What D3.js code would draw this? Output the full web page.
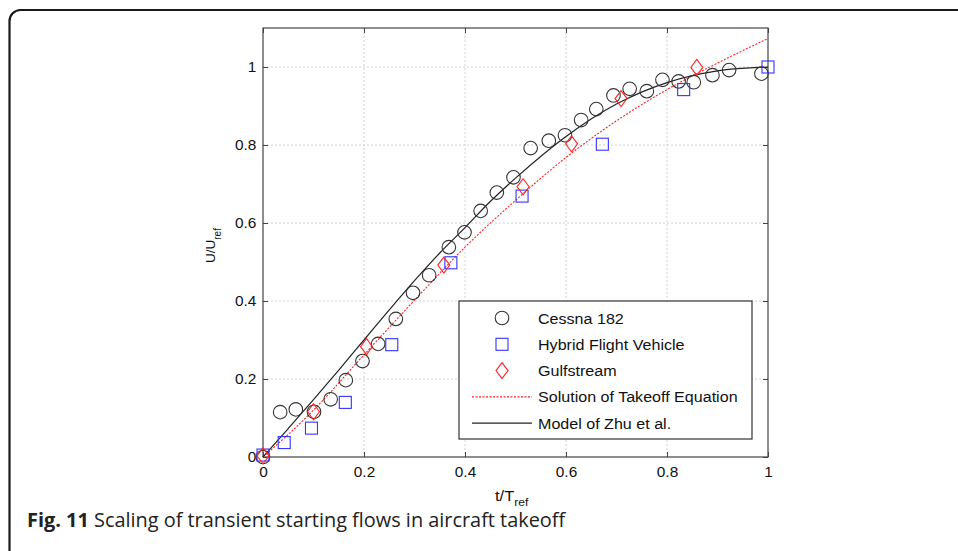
<!DOCTYPE html>
<html>
<head>
<meta charset="utf-8">
<script src="https://cdn.jsdelivr.net/npm/d3@7"></script>
<style>
body{margin:0;background:#fff;}
svg text{font-family:"Liberation Sans",Arial,sans-serif;}
</style>
</head>
<body>
<div id="chart"></div>
<script>
// Cessna 182
var cessnaX=[0,0.034,0.065,0.101,0.134,0.164,0.197,0.228,0.263,0.297,0.329,0.368,0.399,0.431,0.463,0.496,0.530,0.566,0.598,0.630,0.660,0.694,0.726,0.760,0.791,0.823,0.853,0.890,0.923,0.987];
var cessnaY=[0,0.115,0.122,0.116,0.148,0.197,0.246,0.290,0.354,0.421,0.466,0.538,0.576,0.631,0.678,0.717,0.792,0.811,0.825,0.864,0.892,0.927,0.944,0.938,0.967,0.963,0.961,0.979,0.992,0.983];
// Hybrid Flight Vehicle
var hybridX=[0,0.042,0.096,0.163,0.255,0.372,0.513,0.672,0.833,1.0];
var hybridY=[0.005,0.037,0.074,0.140,0.288,0.498,0.669,0.802,0.942,1.0];
// Gulfstream
var gulfX=[0,0.100,0.205,0.358,0.515,0.611,0.709,0.859];
var gulfY=[0.003,0.116,0.283,0.492,0.693,0.803,0.919,0.999];
// Solution of Takeoff Equation
var takeoffX=[0,0.1,0.2,0.3,0.4,0.5,0.6,0.7,0.8,0.9,1.0];
var takeoffY=[0,0.12,0.262,0.402,0.538,0.658,0.768,0.862,0.942,1.01,1.073];
// Model of Zhu et al.
var zhuX=[0,0.05,0.1,0.15,0.2,0.25,0.3,0.35,0.4,0.45,0.5,0.6,0.7,0.8,0.9,1.0];
var zhuY=[0,0.073,0.147,0.223,0.300,0.377,0.452,0.523,0.588,0.655,0.715,0.822,0.905,0.96,0.99,1.0];

var xTicks=[0,0.2,0.4,0.6,0.8,1];
var yTicks=[0,0.2,0.4,0.6,0.8,1];

var W=958,H=551;
var pLeft=263,pRight=768,pTop=28,pBottom=457;
var stretch="scale(1.1,1)"; // figure text looks a bit wider than tall

var svg=d3.select("#chart").append("svg").attr("width",W).attr("height",H);

// figure frame
svg.append("rect").attr("x",9.5).attr("y",10).attr("width",1000).attr("height",1000)
	.attr("rx",11).attr("fill","none").attr("stroke","#1a1a1a").attr("stroke-width",2.2);

var x=d3.scaleLinear().domain([0,1]).range([pLeft,pRight]);
var y=d3.scaleLinear().domain([0,1.1]).range([pBottom,pTop]);

// grid
var g=svg.append("g");
g.selectAll("line.gx").data(xTicks.slice(1,-1)).enter().append("line")
	.attr("x1",function(d){return x(d);}).attr("x2",function(d){return x(d);})
	.attr("y1",pTop).attr("y2",pBottom)
	.attr("stroke","#d0d0d0").attr("stroke-dasharray","2,2");
g.selectAll("line.gy").data(yTicks.slice(1)).enter().append("line")
	.attr("y1",function(d){return y(d);}).attr("y2",function(d){return y(d);})
	.attr("x1",pLeft).attr("x2",pRight)
	.attr("stroke","#d0d0d0").attr("stroke-dasharray","2,2");

// axes, ticks inward on all four sides
function styleAxis(sel){
	sel.select(".domain").remove();
	sel.selectAll(".tick line").attr("stroke","#444");
	sel.selectAll("text").attr("font-size",14).attr("fill","#111").attr("transform",stretch);
}
svg.append("g").attr("transform","translate(0,"+pBottom+")")
	.call(d3.axisBottom(x).tickValues(xTicks).tickFormat(d3.format("")).tickSizeInner(-5).tickPadding(10))
	.call(styleAxis);
svg.append("g").attr("transform","translate(0,"+pTop+")")
	.call(d3.axisTop(x).tickValues(xTicks).tickSizeInner(-5).tickFormat(""))
	.call(styleAxis);
svg.append("g").attr("transform","translate("+pLeft+",0)")
	.call(d3.axisLeft(y).tickValues(yTicks).tickFormat(d3.format("")).tickSizeInner(-5).tickPadding(6))
	.call(styleAxis);
svg.append("g").attr("transform","translate("+pRight+",0)")
	.call(d3.axisRight(y).tickValues(yTicks).tickSizeInner(-5).tickFormat(""))
	.call(styleAxis);

svg.append("rect").attr("x",pLeft).attr("y",pTop).attr("width",pRight-pLeft).attr("height",pBottom-pTop)
	.attr("fill","none").attr("stroke","#444").attr("stroke-width",1.2);

// curves
var line=d3.line().curve(d3.curveMonotoneX)
	.x(function(d){return x(d[0]);}).y(function(d){return y(d[1]);});
svg.append("path").datum(d3.zip(takeoffX,takeoffY))
	.attr("d",line)
	.attr("fill","none").attr("stroke","#f22").attr("stroke-width",1.1).attr("stroke-dasharray","2,1.5");
svg.append("path").datum(d3.zip(zhuX,zhuY))
	.attr("d",line)
	.attr("fill","none").attr("stroke","#222").attr("stroke-width",1.2);

// markers
var circle=function(sel){sel.append("circle").attr("r",6.8).attr("fill","none").attr("stroke","#333").attr("stroke-width",1.1);};
var square=function(sel){sel.append("rect").attr("x",-6).attr("y",-6).attr("width",12).attr("height",12).attr("fill","none").attr("stroke","#33f").attr("stroke-width",1.1);};
var diamond=function(sel){sel.append("path").attr("d","M0,-8L6,0L0,8L-6,0Z").attr("fill","none").attr("stroke","#f22").attr("stroke-width",1.1);};

function plotPts(xs,ys,shape){
	svg.append("g").selectAll("g").data(d3.zip(xs,ys)).enter().append("g")
		.attr("transform",function(d){return "translate("+x(d[0])+","+y(d[1])+")";})
		.call(shape);
}
plotPts(cessnaX,cessnaY,circle);
plotPts(hybridX,hybridY,square);
plotPts(gulfX,gulfY,diamond);

// legend
var leg=svg.append("g");
leg.append("rect").attr("x",459).attr("y",301).attr("width",293).attr("height",138)
	.attr("fill","#fff").attr("stroke","#333").attr("stroke-width",1.2);
var legNames=["Cessna 182","Hybrid Flight Vehicle","Gulfstream","Solution of Takeoff Equation","Model of Zhu et al."];
legNames.forEach(function(n,i){
	var ly=318+i*26.3;
	var it=leg.append("g").attr("transform","translate(502,"+ly+")");
	if(i==0) circle(it);
	if(i==1) square(it);
	if(i==2) diamond(it);
	if(i==3) leg.append("line").attr("x1",472).attr("x2",532).attr("y1",ly).attr("y2",ly)
		.attr("stroke","#f22").attr("stroke-width",1.1).attr("stroke-dasharray","2,1.5");
	if(i==4) leg.append("line").attr("x1",472).attr("x2",532).attr("y1",ly).attr("y2",ly)
		.attr("stroke","#222").attr("stroke-width",1.2);
	leg.append("text").attr("transform","translate(538,"+(ly+5.5)+") scale(1.11,1)")
		.attr("font-size",14.5).attr("fill","#111").text(n);
});

// axis titles
var xt=svg.append("text").attr("transform","translate(495,501) "+stretch).attr("font-size",15).attr("fill","#111");
xt.append("tspan").text("t/T");
xt.append("tspan").attr("dy",5).attr("font-size",11).text("ref");
var yt=svg.append("text").attr("transform","translate(215,263) rotate(-90)").attr("font-size",13.5).attr("fill","#111");
yt.append("tspan").text("U/U");
yt.append("tspan").attr("dy",6).attr("font-size",10).text("ref");

// caption
var cap=svg.append("text").attr("x",27).attr("y",527).attr("font-size",19.9)
	.style("font-family","'Open Sans',sans-serif").attr("fill","#222");
cap.append("tspan").attr("font-weight","bold").text("Fig. 11");
cap.append("tspan").text(" Scaling of transient starting flows in aircraft takeoff");
</script>
</body>
</html>
